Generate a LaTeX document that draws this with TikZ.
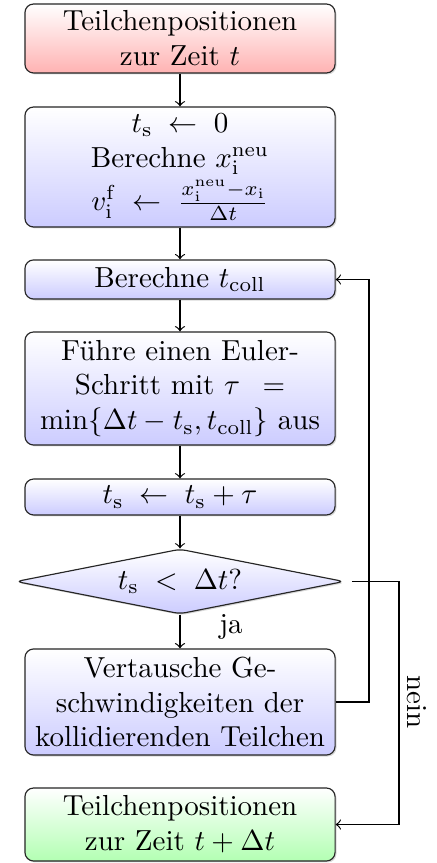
\documentclass[tikz,border=0pt]{standalone}
\usetikzlibrary{shapes.geometric,shadows,calc}
\begin{document}
\begin{tikzpicture}[x=0.345pt,y=-0.345pt,
  base/.style={draw=black!85, align=center, inner xsep=3pt, inner ysep=1pt,
    drop shadow={opacity=0.3, shadow xshift=0.5pt, shadow yshift=-0.5pt}},
  box/.style={base, rectangle, rounded corners=3pt, minimum width=107pt},
  bluebox/.style={box, top color=white, bottom color=blue!20},
  redbox/.style={box, top color=white, bottom color=red!30},
  greenbox/.style={box, top color=white, bottom color=green!30},
  decision/.style={base, diamond, aspect=5, inner sep=0pt, rounded corners=2pt,
    minimum width=113.2pt, minimum height=22.4pt, top color=white, bottom color=blue!20},
  conn/.style={draw, ->}]
\useasboundingbox (0,0) rectangle (437,863);

\node[redbox, minimum height=23.8pt] (b1) at (180,38.5) {Teilchenpositionen\\zur Zeit $t$};
\node[bluebox, minimum height=41.4pt] (b2) at (180,167)
  {$t_\mathrm{s} \;\leftarrow\; 0$\\Berechne $x_\mathrm{i}^\mathrm{neu}$\\[1pt]
   $v_\mathrm{i}^\mathrm{f} \;\leftarrow\; \frac{x_\mathrm{i}^\mathrm{neu}-x_\mathrm{i}}{\Delta t}$};
\node[bluebox, minimum height=13.5pt] (b3) at (180,279.5) {Berechne $t_\mathrm{coll}$};
\node[bluebox, minimum height=39pt] (b4) at (180,388.5)
  {F\"uhre einen Euler-\\Schritt mit $\tau\hspace{5pt}=$\\$\min\{\Delta t - t_\mathrm{s}, t_\mathrm{coll}\}$ aus};
\node[bluebox, minimum height=12.4pt] (b5) at (180,497) {$t_\mathrm{s} \;\leftarrow\; t_\mathrm{s} + \tau$};
\node[decision] (d) at (180,581.5) {$t_\mathrm{s} \;<\; \Delta t$?};
\node[bluebox, minimum height=36.6pt] (b6) at (180,702)
  {Vertausche Ge-\\schwindigkeiten der\\kollidierenden Teilchen};
\node[greenbox, minimum height=25.2pt] (b7) at (180,824.5) {Teilchenpositionen\\zur Zeit $t + \Delta t$};

\coordinate (loopx) at (369,0);
\coordinate (neinx) at (399,0);

\draw[conn] (b1) -- (b2);
\draw[conn] (b2) -- (b3);
\draw[conn] (b3) -- (b4);
\draw[conn] (b4) -- (b5);
\draw[conn] (b5) -- (d);
\draw[conn] (d) -- (b6);
\node (ja) at (231,627) {ja};
\draw[conn] (b6.east) -- (b6.east -| loopx) |- (b3.east);
\draw[conn] ([xshift=2.5pt]d.east) -- (d.east -| neinx) |- (b7.east);
\node[rotate=-90] (nein) at (417,702) {nein};
\end{tikzpicture}
\end{document}
